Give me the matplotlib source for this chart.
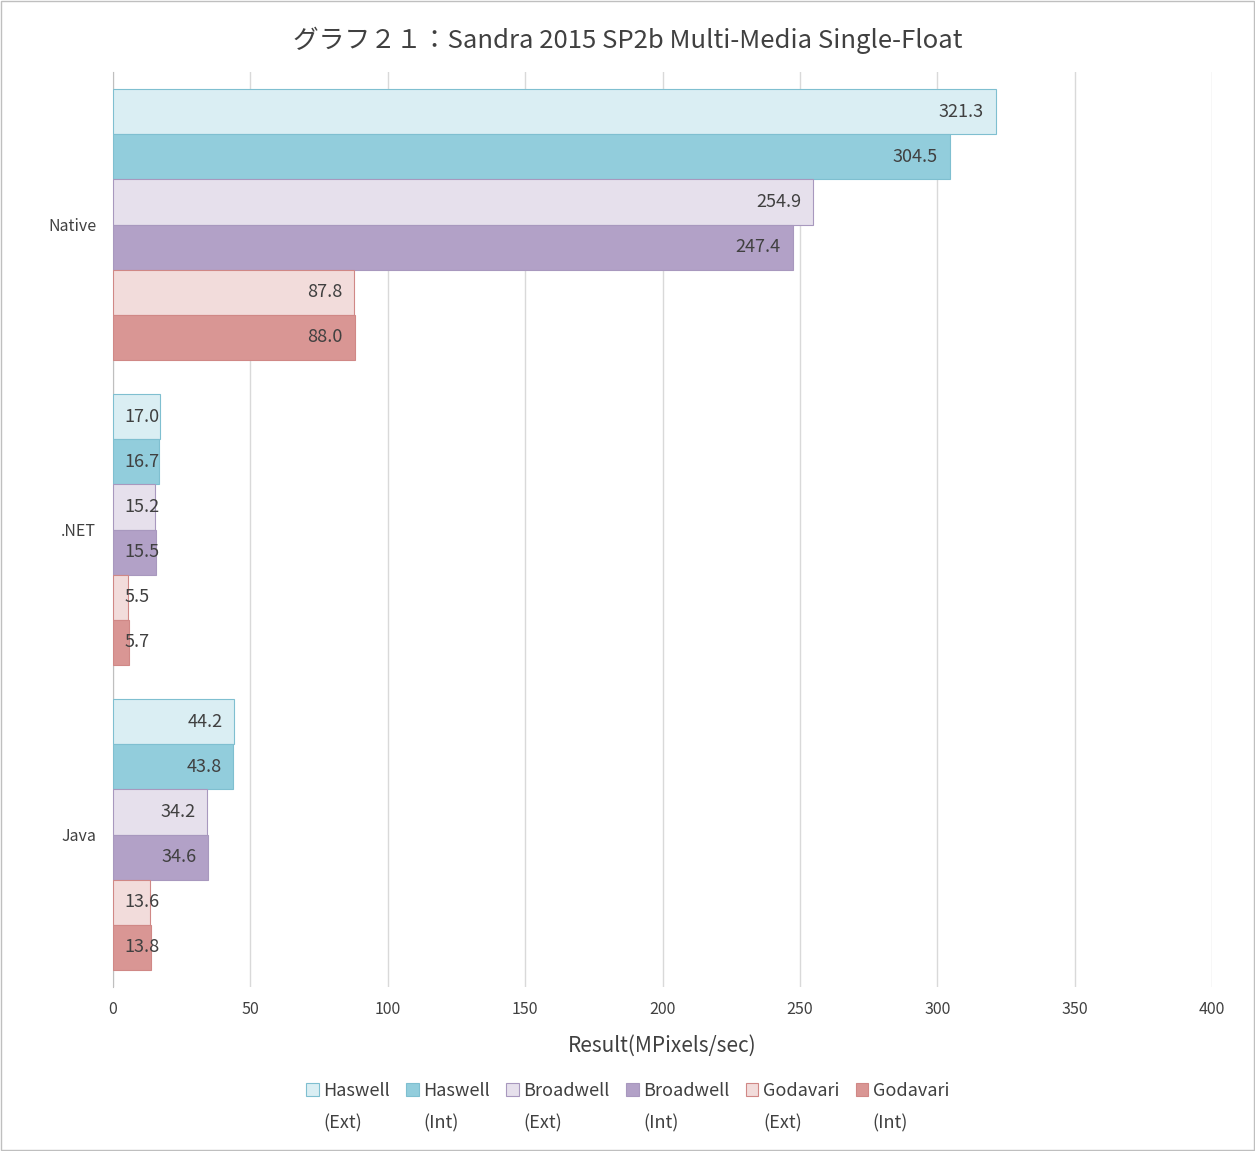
import numpy as np
import matplotlib.pyplot as plt
from matplotlib.patches import Rectangle

plt.rcParams['font.family'] = ['Noto Sans CJK JP', 'DejaVu Sans']

categories = ['Native', '.NET', 'Java']
series_names = ['Haswell', 'Haswell', 'Broadwell', 'Broadwell', 'Godavari', 'Godavari']
series_kinds = ['(Ext)', '(Int)', '(Ext)', '(Int)', '(Ext)', '(Int)']
haswell_ext = [321.3, 17.0, 44.2]
haswell_int = [304.5, 16.7, 43.8]
broadwell_ext = [254.9, 15.2, 34.2]
broadwell_int = [247.4, 15.5, 34.6]
godavari_ext = [87.8, 5.5, 13.6]
godavari_int = [88.0, 5.7, 13.8]
values = [haswell_ext, haswell_int, broadwell_ext, broadwell_int, godavari_ext, godavari_int]

fills = ['#DAEEF3', '#92CDDC', '#E6E0EC', '#B2A1C7', '#F2DCDB', '#D99694']
edges = ['#7FBFD0', '#7FBFD0', '#A898BE', '#A898BE', '#D08886', '#D08886']

fig = plt.figure(figsize=(12.55, 11.51), dpi=100)
ax = fig.add_axes([113 / 1255, 1 - 987 / 1151, 1099 / 1255, 915 / 1151])

n = len(values)
bar_h = 0.889 / n
y = np.arange(len(categories))
for i in range(n):
    ypos = y - 0.889 / 2 + bar_h * (i + 0.5)
    ax.barh(ypos, values[i], height=bar_h, color=fills[i], edgecolor=edges[i],
            linewidth=0.8, label=series_names[i], zorder=3)
    for yy, v in zip(ypos, values[i]):
        if v > 23:
            ax.text(v - 4.3, yy, f'{v:.1f}', ha='right', va='center',
                    fontsize=13, color='#404040', zorder=4)
        else:
            ax.text(4.3, yy, f'{v:.1f}', ha='left', va='center',
                    fontsize=13, color='#404040', zorder=4)

ax.set_xlim(0, 400)
ax.set_ylim(2.5, -0.5)
ax.set_xticks(range(0, 401, 50))
ax.set_yticks(y)
ax.set_yticklabels(categories)
ax.tick_params(axis='both', length=0, labelsize=11.5, labelcolor='#404040')
ax.tick_params(axis='x', pad=10)
ax.tick_params(axis='y', pad=12)
ax.grid(axis='x', color='#D9D9D9', linewidth=1, zorder=0)
for s in ['top', 'right', 'bottom']:
    ax.spines[s].set_visible(False)
ax.spines['left'].set_color('#BFBFBF')

ax.set_xlabel('Result(MPixels/sec)', fontsize=15, color='#404040', labelpad=12)
fig.suptitle('グラフ２１：Sandra 2015 SP2b Multi-Media Single-Float',
             y=1 - 40 / 1151, va='center', fontsize=18.5, color='#404040')

leg = fig.legend(loc='center', bbox_to_anchor=(0.5, 1 - 1091 / 1151), ncol=6,
                 frameon=False, fontsize=13, labelcolor='#404040',
                 handlelength=0.7, handleheight=0.7, handletextpad=0.25,
                 columnspacing=0.9, borderaxespad=0)

# second line of each legend label, under the first one
fig.canvas.draw()
inv = fig.transFigure.inverted()
for t, kind in zip(leg.get_texts(), series_kinds):
    bb = t.get_window_extent()
    x0, y0 = inv.transform((bb.x0, (bb.y0 + bb.y1) / 2 - 32))
    fig.text(x0, y0, kind, ha='left', va='center', fontsize=13, color='#404040')

fig.patches.append(Rectangle((1 / 1255, 1 / 1151), 1 - 2 / 1255, 1 - 2 / 1151,
                             transform=fig.transFigure, fill=False,
                             edgecolor='#BFBFBF', linewidth=1))

fig.savefig('out.png', dpi=100)
